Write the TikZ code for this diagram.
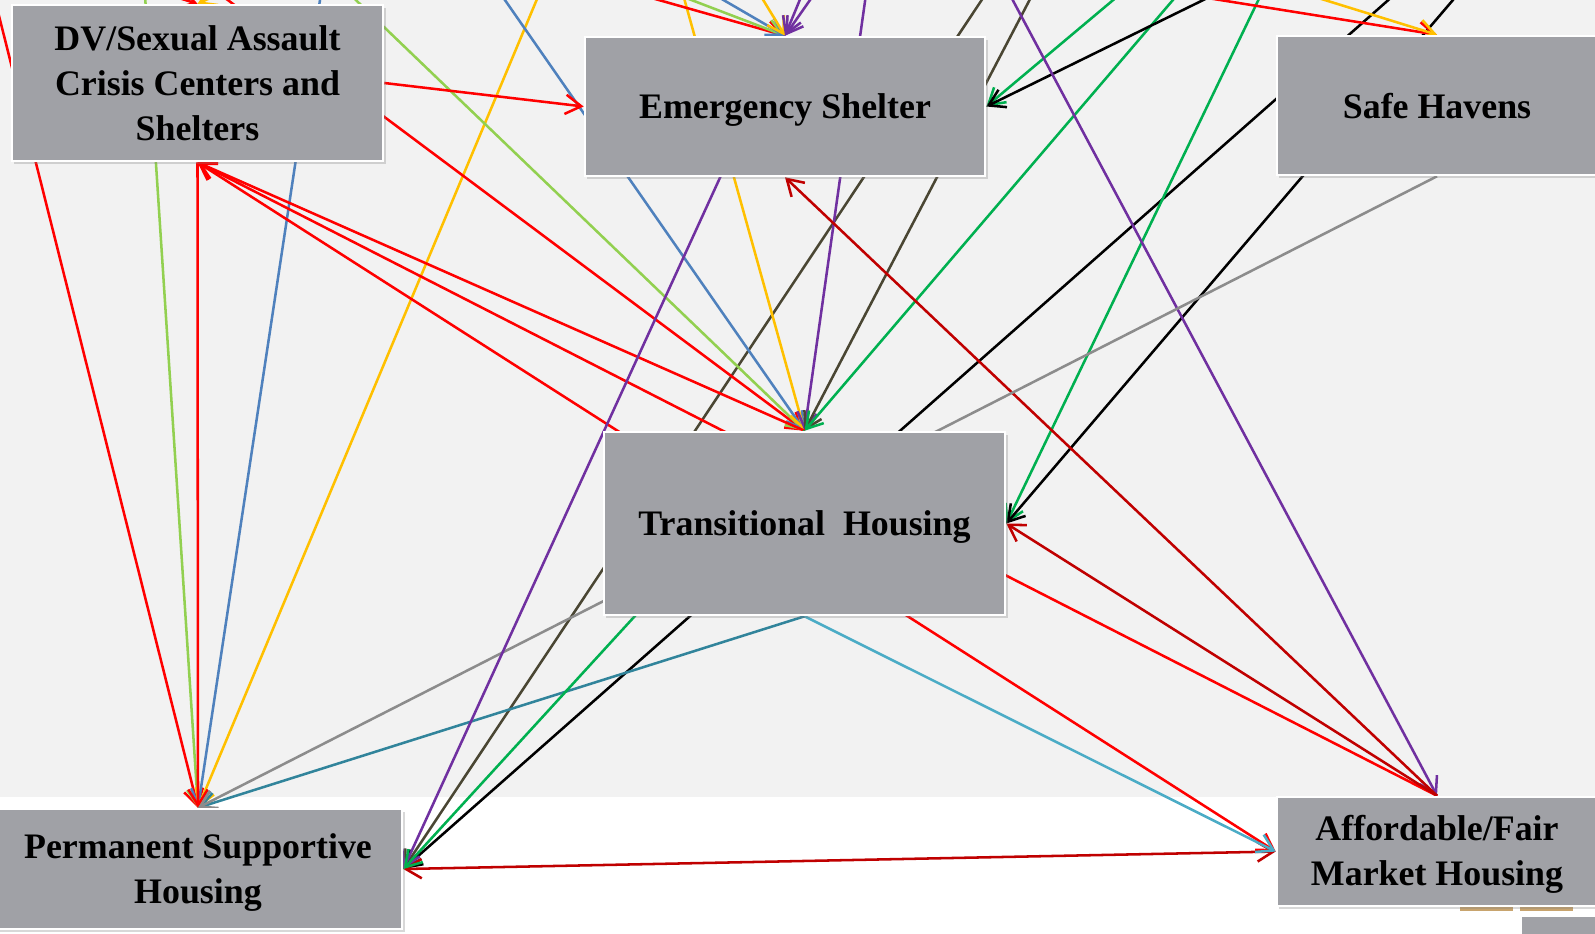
\documentclass[tikz,border=0pt]{standalone}
\usepackage{fontspec}
\setmainfont{Liberation Serif}
\usetikzlibrary{arrows.meta,shadows}
\definecolor{panelgray}{HTML}{F2F2F2}
\definecolor{boxgray}{HTML}{A0A1A6}
\definecolor{cred}{HTML}{FF0000}
\definecolor{cdred}{HTML}{C00000}
\definecolor{clgreen}{HTML}{92D050}
\definecolor{cgreen}{HTML}{00B050}
\definecolor{cblue}{HTML}{4F81BD}
\definecolor{cgold}{HTML}{FFC000}
\definecolor{cpurple}{HTML}{7030A0}
\definecolor{colive}{HTML}{4A4633}
\definecolor{cgray}{HTML}{8C8C8C}
\definecolor{cteal}{HTML}{31849B}
\definecolor{clblue}{HTML}{4BACC6}
\definecolor{ctan}{HTML}{C8A46E}
\pgfdeclarelayer{back}
\pgfdeclarelayer{links}
\pgfsetlayers{back,links,main}

\begin{document}
\begin{tikzpicture}
    [x=0.01cm, y=-0.01cm,
      box/.style={draw=white, line width=0.7pt, fill=boxgray, inner sep=0pt,
        align=center, font=\fontsize{10.2}{12.8}\selectfont\bfseries,
        drop shadow={shadow xshift=0.7pt, shadow yshift=-0.9pt, opacity=0.3}},
      oneline/.style={text depth=0pt},
      link/.style={line width=0.72pt, -{Straight Barb[length=4.5pt,width=5.5pt]}},
      twoway/.style={line width=0.72pt,
        {Straight Barb[length=4.5pt,width=5.5pt]}-{Straight Barb[length=4.5pt,width=5.5pt]}}]
  \useasboundingbox (0,0) rectangle (1595,933);
  \clip (0,0) rectangle (1595,933);
  % housing stages
  \node[box, minimum width=3.71cm, minimum height=1.56cm] (dv) at (197.5,83)
    {DV/Sexual Assault\\Crisis Centers and\\Shelters};
  \node[box, oneline, minimum width=4cm, minimum height=1.39cm] (es) at (785,106.5)
    {Emergency Shelter};
  \node[box, oneline, minimum width=3.2cm, minimum height=1.39cm] (sh) at (1437,105.5)
    {Safe Havens};
  \node[box, oneline, minimum width=4.01cm, minimum height=1.83cm] (th) at (804.5,523.5)
    {Transitional\ \ Housing};
  \node[box, minimum width=4.08cm, minimum height=1.2cm] (psh) at (198,869)
    {\strut Permanent Supportive\\Housing};
  \node[box, minimum width=3.2cm, minimum height=1.09cm] (afm) at (1437,851.5)
    {\strut Affordable/Fair\\Market Housing};
  \node[box, minimum width=0.9cm, minimum height=0.4cm] (more) at (1566,936) {};

  \begin{pgfonlayer}{back}
    \fill[white] (0,0) rectangle (1595,933);
    \fill[panelgray] (0,0) rectangle (1595,797);
  \end{pgfonlayer}

  \begin{pgfonlayer}{links}
    \clip (0,0) rectangle (1595,933);
    \fill[ctan] (1460,905) rectangle (1513,911);
    \fill[ctan] (1520,905) rectangle (1573,911);
    % ends of links that come from outside the frame
    \coordinate (p-red) at (-10,-20);
    \coordinate (p-lgreen) at (144,-20);
    \coordinate (p-blue) at (323,-20);
    \coordinate (p-gold) at (545,-20);
    \coordinate (p-olive) at (995,-20);
    \coordinate (p-black) at (1411,-20);
    \coordinate (t-red) at (201,-20);
    \coordinate (t-lgreen) at (335,-20);
    \coordinate (t-blue) at (491,-20);
    \coordinate (t-gold) at (679,-20);
    \coordinate (t-purple) at (868,-20);
    \coordinate (t-olive) at (1040,-20);
    \coordinate (t-green) at (1190,-20);
    \coordinate (te-green) at (1268,-20);
    \coordinate (te-black) at (1470,-20);
    \coordinate (e-black) at (1244,-20);
    \coordinate (e-green) at (1137,-20);
    \coordinate (e-red) at (588,-20);
    \coordinate (e-lgreen) at (639,-20);
    \coordinate (e-blue) at (689,-20);
    \coordinate (e-gold) at (751,-20);
    \coordinate (e-purple) at (808,-20);
    \coordinate (e-purple2) at (824,-20);
    \coordinate (a-purple) at (1002,-20);
    \coordinate (s-red) at (1095,-20);
    \coordinate (s-gold) at (1260,-20);
    \coordinate (d-red) at (120,-20);
    \coordinate (d-gold) at (250,-20);

    \draw[link, cred] (p-red) -- (psh.north);
    \draw[link, clgreen] (p-lgreen) -- (psh.north);
    \draw[link, cblue] (p-blue) -- (psh.north);
    \draw[link, cgold] (p-gold) -- (psh.north);
    \draw[link, colive] (p-olive) -- (psh.east);
    \draw[link, black] (p-black) -- (psh.east);
    \draw[link, cred] (t-red) -- (th.north);
    \draw[link, clgreen] (t-lgreen) -- (th.north);
    \draw[link, cblue] (t-blue) -- (th.north);
    \draw[link, cgold] (t-gold) -- (th.north);
    \draw[link, cpurple] (t-purple) -- (th.north);
    \draw[link, colive] (t-olive) -- (th.north);
    \draw[link, cgreen] (t-green) -- (th.north);
    \draw[link, cgreen] (te-green) -- (th.east);
    \draw[link, black] (te-black) -- (th.east);
    \draw[link, cgreen] (e-green) -- (es.east);
    \draw[link, black] (e-black) -- (es.east);
    \draw[link, cred] (e-red) -- (es.north);
    \draw[link, clgreen] (e-lgreen) -- (es.north);
    \draw[link, cblue] (e-blue) -- (es.north);
    \draw[link, cgold] (e-gold) -- (es.north);
    \draw[link, cpurple] (e-purple) -- (es.north);
    \draw[link, cpurple] (e-purple2) -- (es.north);
    \draw[link, cpurple] (a-purple) -- (afm.north);
    \draw[link, cred] (s-red) -- (sh.north);
    \draw[link, cgold] (s-gold) -- (sh.north);
    \draw[link, cred] (d-red) -- (dv.north);
    \draw[link, cgold] (d-gold) -- (dv.north);

    % links between the stages
    \draw[link, cred] (dv.east) -- (es.west);
    \draw[link, cred] (th.north) -- (dv.south);
    \draw[link, cred] (afm.north) -- (dv.south);
    \draw[twoway, cred] (dv.south) -- (afm.west);
    \draw[link, cred] (dv.south) -- (psh.north);
    \draw[link, cdred] (afm.north) -- (es.south);
    \draw[link, cdred] (afm.north) -- (th.east);
    \draw[twoway, cdred] (psh.east) -- (afm.west);
    \draw[link, clblue] (th.south) -- (afm.west);
    \draw[link, cteal] (th.south) -- (psh.north);
    \draw[link, cgray] (sh.south) -- (psh.north);
    \draw[link, cpurple] (es.north) -- (psh.east);
    \draw[link, cgreen] (th.north) -- (psh.east);
  \end{pgfonlayer}
\end{tikzpicture}
\end{document}
